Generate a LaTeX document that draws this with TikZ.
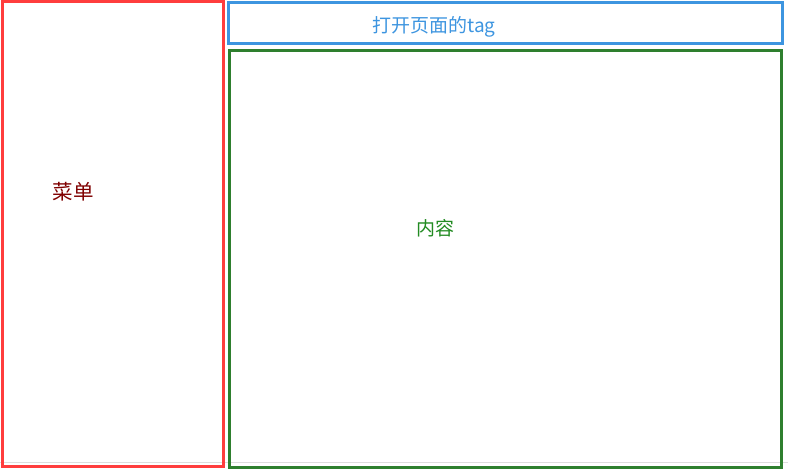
\documentclass[tikz,border=0pt]{standalone}
\usepackage{fontspec}
\newfontfamily\cjk{Noto Sans CJK SC}
\definecolor{menured}{HTML}{FF3D3D}
\definecolor{tagblue}{HTML}{3D95E0}
\definecolor{contgreen}{HTML}{2E7F2E}
\definecolor{menutext}{HTML}{800000}
\definecolor{conttext}{HTML}{228B22}
\definecolor{lightgray}{HTML}{DDDDDD}
\tikzset{
  panel/.style={draw, line width=3pt, inner sep=0pt, rectangle},
  label/.style={font=\cjk\fontsize{19}{21}\selectfont, inner sep=0pt}
}
\begin{document}
\begin{tikzpicture}[x=1pt,y=-1pt]
\useasboundingbox[fill=white] (0,0) rectangle (788,470);
\coordinate (gl) at (0,462.5);
\coordinate (gr) at (788,462.5);
\draw[lightgray, line width=1pt] (gl) -- (gr);
\node[panel, draw=menured, minimum width=221.5pt, minimum height=465pt] (menu) at (112.75,234) {};
\node[panel, draw=tagblue, minimum width=553.5pt, minimum height=41pt] (tag) at (505.25,23.5) {};
\node[panel, draw=contgreen, minimum width=552pt, minimum height=417.5pt] (content) at (505.5,259.25) {};
\node[label, text=menutext, font=\cjk\fontsize{20.5}{22}\selectfont] (menulabel) at (73,191.5) {菜单};
\node[label, text=conttext] (contlabel) at (435,228) {内容};
\node[label, text=tagblue] (taglabel) at (434,26.5) {打开页面的tag};
\end{tikzpicture}
\end{document}
